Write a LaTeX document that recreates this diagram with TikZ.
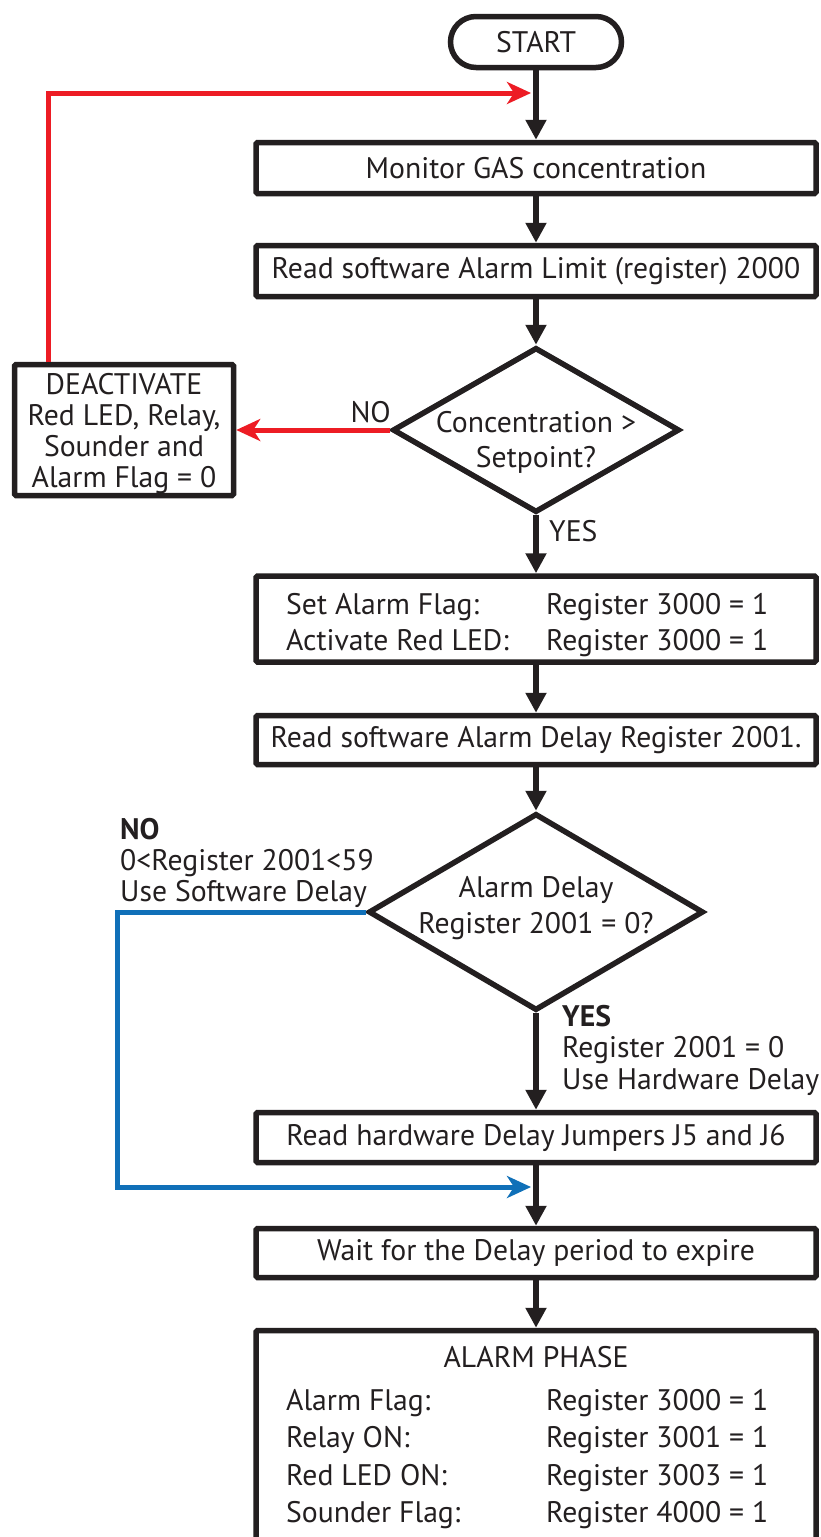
\documentclass[tikz,border=0pt]{standalone}
\usepackage{fontspec}
\setmainfont{PT Sans}
\usetikzlibrary{arrows.meta,shapes.geometric,calc}
\definecolor{ink}{RGB}{35,31,32}
\definecolor{alarmred}{RGB}{237,28,36}
\definecolor{flowblue}{RGB}{16,112,184}
\begin{document}
\begin{tikzpicture}[x=1pt,y=-1pt,
  every node/.style={font=\fontsize{29.7}{31}\selectfont, text=ink},
  box/.style={draw=ink, line width=5.5pt, minimum width=560pt, inner sep=0pt, rounded corners=1.5pt},
  dec/.style={diamond, draw=ink, line width=5.5pt, inner sep=0pt, line join=miter},
  flow/.style={draw=ink, line width=5.5pt, -{Triangle[length=20pt,width=20pt]}},
  redflow/.style={draw=alarmred, line width=5pt, -{Stealth[length=24pt,width=22pt,inset=7pt]}},
  blueflow/.style={draw=flowblue, line width=5pt, -{Stealth[length=24pt,width=22pt,inset=7pt]}},
  txt/.style={inner sep=0pt}]
\useasboundingbox (0,0) rectangle (821,1537);
\fill[white] (0,0) rectangle (821,1537);

% nodes
\node[draw=ink, line width=5.5pt, minimum width=171pt, minimum height=51pt, rounded corners=25.5pt, inner sep=0pt] (start) at (536,42) {START};
\node[box, minimum height=51pt] (mon) at (536,168) {Monitor GAS concentration};
\node[box, minimum height=51pt] (lim) at (536,271) {Read software Alarm Limit (register) 2000};
\node[dec, minimum width=287pt, minimum height=165pt,
  label={[align=center, yshift=-12pt, font=\fontsize{29.7}{35}\selectfont]center:Concentration >\\Setpoint?}] (d1) at (536,430) {};
\node[draw=ink, line width=5.5pt, rounded corners=1.5pt, minimum width=219pt, minimum height=131pt, align=center, inner sep=0pt, text depth=0pt] (deact) at (124,430) {DEACTIVATE\\Red LED, Relay,\\Sounder and\\Alarm Flag = 0};
\node[box, minimum height=86pt] (set) at (536,619) {};
\node[box, minimum height=49pt] (rdel) at (536,740) {Read software Alarm Delay Register 2001.};
\node[dec, minimum width=335pt, minimum height=197pt,
  label={[align=center, yshift=4pt, font=\fontsize{29.7}{36}\selectfont]center:Alarm Delay\\Register 2001 = 0?}] (d2) at (536,912) {};
\node[box, minimum height=50pt] (hw) at (536,1137.5) {Read hardware Delay Jumpers J5 and J6};
\node[box, minimum height=49pt] (wait) at (536,1253) {Wait for the Delay period to expire};
\node[box, minimum height=240pt] (alarm) at (536,1450.5) {};

% texts inside set box
\node[txt, anchor=base west] (s1a) at (286,614) {Set Alarm Flag:};
\node[txt, anchor=base west] (s1b) at (546,614) {Register 3000 = 1};
\node[txt, anchor=base west] (s2a) at (286,650) {Activate Red LED:};
\node[txt, anchor=base west] (s2b) at (546,650) {Register 3000 = 1};

% texts inside alarm box
\node[txt, anchor=base] (ah) at (536,1367) {ALARM PHASE};
\node[txt, anchor=base west] (a1a) at (286,1410) {Alarm Flag:};
\node[txt, anchor=base west] (a1b) at (546,1410) {Register 3000 = 1};
\node[txt, anchor=base west] (a2a) at (286,1447) {Relay ON:};
\node[txt, anchor=base west] (a2b) at (546,1447) {Register 3001 = 1};
\node[txt, anchor=base west] (a3a) at (286,1485) {Red LED ON:};
\node[txt, anchor=base west] (a3b) at (546,1485) {Register 3003 = 1};
\node[txt, anchor=base west] (a4a) at (286,1522) {Sounder Flag:};
\node[txt, anchor=base west] (a4b) at (546,1522) {Register 4000 = 1};

% branch labels
\node[txt, anchor=base east] (no1) at (391,422) {NO};
\node[txt, anchor=base west] (yes1) at (549,541) {YES};
\node[txt, anchor=north west, align=left] (no2) at (120,818) {\textbf{NO}\\0<Register 2001<59\\Use Software Delay};
\node[txt, anchor=north west, align=left, font=\fontsize{29.7}{31.5}\selectfont] (yes2) at (562,1005) {\textbf{YES}\\Register 2001 = 0\\Use Hardware Delay};

% coordinates for loop-backs
\coordinate (rc) at (48,93);
\coordinate (rt) at (531,93);
\coordinate (bc) at (117,1187);
\coordinate (bt) at (531,1187);

% connectors
\draw[flow] (start) -- (mon);
\draw[flow] (mon) -- (lim);
\draw[flow] (lim) -- (d1);
\draw[flow] (d1) -- (set);
\draw[flow] (set) -- (rdel);
\draw[flow] (rdel) -- (d2);
\draw[flow] (d2) -- (hw);
\draw[flow] (hw) -- (wait);
\draw[flow] (wait) -- (alarm);
\draw[redflow] (d1.west) -- (deact.east);
\draw[redflow] (rc |- deact.north) -- (rc) -- (rt);
\draw[blueflow] (d2.west) -| (bc) -- (bt);
\end{tikzpicture}
\end{document}
